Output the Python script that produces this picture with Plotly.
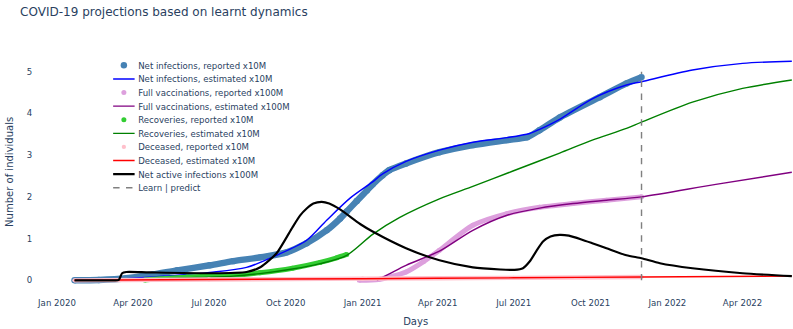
import plotly.graph_objects as go

# ---------------- data ----------------
net_rep_dates = ["2020-01-22", "2020-02-20", "2020-03-24", "2020-04-25", "2020-05-24", "2020-07-02",
                 "2020-07-30", "2020-08-31", "2020-10-02", "2020-10-26", "2020-11-19", "2020-12-05",
                 "2020-12-13", "2020-12-25", "2021-01-06", "2021-01-13", "2021-01-25", "2021-02-02",
                 "2021-02-22", "2021-04-03", "2021-05-13", "2021-06-23", "2021-07-17", "2021-08-01",
                 "2021-08-25", "2021-10-12", "2021-11-13", "2021-12-01"]
net_rep_vals = [0.0, 0.01, 0.05, 0.14, 0.24, 0.36, 0.46, 0.55, 0.67, 0.89, 1.2, 1.48,
                1.65, 1.9, 2.15, 2.3, 2.52, 2.64, 2.8, 3.07, 3.24, 3.36, 3.43, 3.6,
                3.9, 4.39, 4.72, 4.87]

net_est_dates = ["2020-01-22", "2020-03-24", "2020-05-24", "2020-07-02", "2020-08-15", "2020-09-20",
                 "2020-10-26", "2020-11-19", "2020-12-17", "2021-01-13", "2021-01-25", "2021-02-22",
                 "2021-04-03", "2021-05-13", "2021-06-23", "2021-07-20", "2021-08-01", "2021-08-25",
                 "2021-10-03", "2021-11-13", "2021-12-01", "2022-01-31", "2022-04-01", "2022-05-30"]
net_est_vals = [0.0, 0.04, 0.12, 0.19, 0.31, 0.6, 0.96, 1.44, 1.97, 2.36, 2.55, 2.85,
                3.12, 3.31, 3.42, 3.52, 3.62, 3.86, 4.35, 4.68, 4.76, 5.04, 5.2, 5.25]

vac_rep_dates = ["2020-12-28", "2021-01-20", "2021-02-02", "2021-02-22", "2021-03-15", "2021-04-03",
                 "2021-05-13", "2021-06-23", "2021-08-01", "2021-09-10", "2021-10-20", "2021-12-01"]
vac_rep_vals = [0.0, 0.02, 0.08, 0.2, 0.45, 0.72, 1.32, 1.6, 1.75, 1.84, 1.92, 2.0]

vac_est_dates = ["2021-01-18", "2021-02-22", "2021-04-03", "2021-05-13", "2021-06-23", "2021-08-01",
                 "2021-09-10", "2021-10-20", "2021-12-01", "2022-02-28", "2022-05-30"]
vac_est_vals = [0.0, 0.36, 0.7, 1.2, 1.56, 1.73, 1.84, 1.92, 2.0, 2.3, 2.59]

rec_rep_dates = ["2020-04-15", "2020-06-05", "2020-07-30", "2020-08-31", "2020-10-09", "2020-11-11",
                 "2020-12-01", "2020-12-13"]
rec_rep_vals = [0.01, 0.08, 0.12, 0.18, 0.29, 0.43, 0.54, 0.62]

rec_est_dates = ["2020-01-22", "2020-03-24", "2020-06-05", "2020-07-30", "2020-08-31", "2020-10-09",
                 "2020-11-11", "2020-12-13", "2021-01-13", "2021-02-14", "2021-04-03", "2021-05-13",
                 "2021-06-30", "2021-08-25", "2021-10-03", "2021-11-13", "2021-12-01", "2022-01-31",
                 "2022-04-01", "2022-05-30"]
rec_est_vals = [0.0, 0.02, 0.06, 0.1, 0.16, 0.27, 0.4, 0.6, 1.1, 1.5, 1.95, 2.25,
                2.62, 3.05, 3.36, 3.64, 3.79, 4.27, 4.6, 4.8]

dec_rep_dates = ["2020-01-22", "2020-07-01", "2021-01-01", "2021-07-01", "2021-12-01"]
dec_rep_vals = [0.0, 0.02, 0.04, 0.06, 0.08]

dec_est_dates = ["2020-01-22", "2020-07-01", "2021-01-01", "2021-07-01", "2021-12-01", "2022-05-30"]
dec_est_vals = [0.0, 0.02, 0.04, 0.06, 0.08, 0.1]

act_dates = ["2020-01-22", "2020-03-10", "2020-03-15", "2020-03-19", "2020-03-24", "2020-04-20",
             "2020-07-02", "2020-08-15", "2020-09-01", "2020-09-20", "2020-10-09", "2020-10-18",
             "2020-10-26", "2020-11-03", "2020-11-13", "2020-11-22", "2020-12-05", "2020-12-29",
             "2021-01-13", "2021-02-22", "2021-04-03", "2021-05-13", "2021-06-15", "2021-07-02",
             "2021-07-12", "2021-07-20", "2021-07-28", "2021-08-05", "2021-08-14", "2021-08-25",
             "2021-09-05", "2021-09-20", "2021-10-03", "2021-10-20", "2021-11-13", "2021-12-01",
             "2021-12-23", "2022-01-31", "2022-04-01", "2022-05-30"]
act_vals = [0.0, 0.0, 0.01, 0.17, 0.2, 0.19, 0.17, 0.2, 0.32, 0.65, 1.27, 1.55,
            1.72, 1.84, 1.88, 1.84, 1.7, 1.35, 1.17, 0.77, 0.48, 0.31, 0.26, 0.25,
            0.29, 0.45, 0.7, 0.93, 1.05, 1.09, 1.07, 0.98, 0.89, 0.77, 0.6, 0.53,
            0.41, 0.29, 0.17, 0.1]

split_dates = ["2021-12-01", "2021-12-01"]
split_vals = [0, 5]

y_ticks = [0, 1, 2, 3, 4, 5]

# ---------------- figure ----------------
FONT = "DejaVu Sans"
fig = go.Figure()


def reported(name, xs, ys, color, width, size):
    fig.add_trace(go.Scatter(x=xs, y=ys, mode="lines",
                             line=dict(color=color, width=width, shape="spline", smoothing=0.7),
                             showlegend=False, hoverinfo="skip"))
    fig.add_trace(go.Scatter(x=xs, y=ys, mode="markers", name=name,
                             marker=dict(color=color, size=size)))


def estimated(name, xs, ys, color, width, smoothing=0.8):
    fig.add_trace(go.Scatter(x=xs, y=ys, mode="lines", name=name,
                             line=dict(color=color, width=width, shape="spline", smoothing=smoothing)))


reported("Net infections, reported x10M", net_rep_dates, net_rep_vals, "steelblue", 9, 9)
estimated("Net infections, estimated x10M", net_est_dates, net_est_vals, "blue", 2)
reported("Full vaccinations, reported x100M", vac_rep_dates, vac_rep_vals, "plum", 7, 7)
estimated("Full vaccinations, estimated x100M", vac_est_dates, vac_est_vals, "purple", 2)
reported("Recoveries, reported x10M", rec_rep_dates, rec_rep_vals, "limegreen", 7, 7)
estimated("Recoveries, estimated x10M", rec_est_dates, rec_est_vals, "green", 2)
reported("Deceased, reported x10M", dec_rep_dates, dec_rep_vals, "pink", 6, 6)
estimated("Deceased, estimated x10M", dec_est_dates, dec_est_vals, "red", 2)
estimated("Net active infections x100M", act_dates, act_vals, "black", 3, smoothing=0.6)
fig.add_trace(go.Scatter(x=split_dates, y=split_vals, mode="lines", name="Learn | predict",
                         line=dict(color="gray", width=2, dash="dash")))

fig.update_layout(
    template="plotly_white",
    width=1108, height=460,
    margin=dict(l=53, r=0, t=71, b=51),
    font=dict(family=FONT, size=12, color="#2a3f5f"),
    title=dict(text="COVID-19 projections based on learnt dynamics", x=0.0253, xref="container",
               xanchor="left", y=0.963, yref="container", yanchor="middle",
               font=dict(family=FONT, size=16.8, color="#2a3f5f")),
    legend=dict(x=0.0948, y=0.983, xanchor="left", yanchor="top", bgcolor="rgba(255,255,255,0)",
                tracegroupgap=0, font=dict(family=FONT, size=12)),
    xaxis=dict(title=dict(text="Days"), range=["2019-12-09 05:00", "2022-05-31 19:00"],
               dtick="M3", tickformat="%b %Y", showgrid=False, zeroline=False, showline=False,
               ticklabelstandoff=5),
    yaxis=dict(title=dict(text="Number of individuals"), range=[-0.3, 5.5], tickvals=y_ticks,
               showgrid=False, zeroline=False, showline=False, ticklabelstandoff=7),
)

post = ("document.documentElement.style.overflow='hidden';"
        "document.body.style.margin='0';document.body.style.overflow='hidden';"
        "var d=document.getElementById('{plot_id}');"
        "d.style.transformOrigin='0 0';d.style.transform='scale(0.716)';")
fig.write_html("out.html", post_script=post, config={"displayModeBar": False})
